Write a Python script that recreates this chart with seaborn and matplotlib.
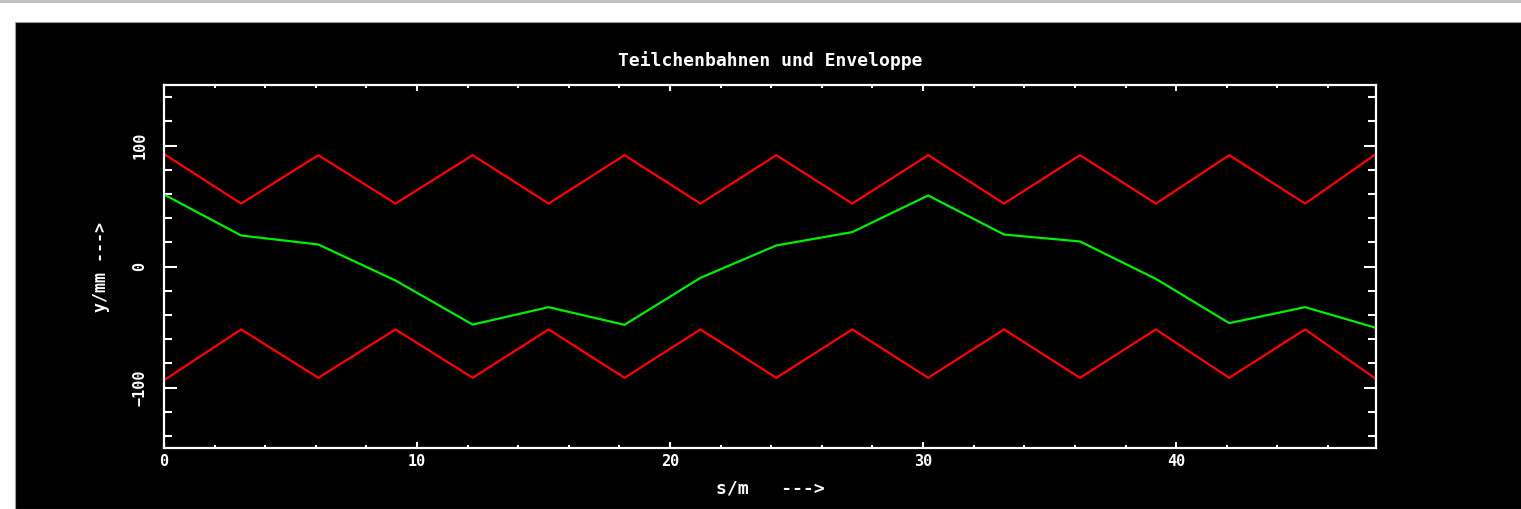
import numpy as np
import pandas as pd
import matplotlib
matplotlib.use('Agg')
import matplotlib.pyplot as plt
import seaborn as sns
from matplotlib.patches import Rectangle
from matplotlib.ticker import MultipleLocator

# s/m positions of the polyline corners
s_pos = [0.0, 3.05, 6.1, 9.15, 12.2, 15.2, 18.2, 21.2, 24.2, 27.2, 30.2,
         33.2, 36.2, 39.2, 42.1, 45.1, 47.9]
# envelope (upper / lower) in mm
env_oben = [93, 52, 92, 52, 92, 52, 92, 52, 92, 52, 92, 52, 92, 52, 92, 52, 93]
env_unten = [-94, -52, -92, -52, -92, -52, -92, -52, -92, -52, -92, -52, -92, -52, -92, -52, -93]
# particle trajectory in mm
bahn = [59.5, 25.6, 18.2, -11.6, -48, -33.6, -48.2, -9.4, 17.4, 28.4, 58.7,
        26.4, 20.7, -10.2, -46.8, -33.6, -50.7]

df = pd.DataFrame({'s': s_pos, 'oben': env_oben, 'unten': env_unten, 'bahn': bahn})

sns.set_theme(style='ticks')
plt.rcParams['font.family'] = ['DejaVu Sans Mono', 'DejaVu Sans']

fig = plt.figure(figsize=(15.21, 5.09), dpi=100)
fig.patch.set_facecolor('white')
# black window area + grey strip on top
fig.patches.append(Rectangle((15 / 1521, 0), 1, (509 - 22) / 509, transform=fig.transFigure,
                             facecolor='black', edgecolor='#a0a0a0', linewidth=0.8, zorder=-10))
fig.patches.append(Rectangle((0, 1 - 3 / 509), 1, 3 / 509, transform=fig.transFigure,
                             facecolor='#c0c0c0', edgecolor='none', zorder=-10))

ax = fig.add_axes([164 / 1521, 1 - 448 / 509, (1376 - 164) / 1521, (448 - 85) / 509])
ax.set_facecolor('black')
ax.set_zorder(5)

sns.lineplot(data=df, x='s', y='oben', color='#ff0000', linewidth=1.6, ax=ax)
sns.lineplot(data=df, x='s', y='unten', color='#ff0000', linewidth=1.6, ax=ax)
sns.lineplot(data=df, x='s', y='bahn', color='#00ee00', linewidth=1.6, ax=ax)

ax.set_xlim(0, 47.9)
ax.set_ylim(-150, 150)
ax.xaxis.set_major_locator(MultipleLocator(10))
ax.xaxis.set_minor_locator(MultipleLocator(2))
ax.yaxis.set_major_locator(MultipleLocator(100))
ax.yaxis.set_minor_locator(MultipleLocator(20))

for sp in ax.spines.values():
    sp.set_color('white')
    sp.set_linewidth(1.6)
    sp.set_visible(True)

ax.tick_params(axis='x', which='major', direction='in', length=4, width=1.5,
               color='white', top=True, bottom=True, labelcolor='white', labelsize=11, pad=4)
ax.tick_params(axis='x', which='minor', direction='in', length=2.5, width=1.5,
               color='white', top=True, bottom=True)
ax.tick_params(axis='y', which='major', direction='in', length=9, width=1.5,
               color='white', left=True, right=True, labelcolor='white', labelsize=11, pad=12)
ax.tick_params(axis='y', which='minor', direction='in', length=6, width=1.5,
               color='white', left=True, right=True)
for lab in ax.get_xticklabels() + ax.get_yticklabels():
    lab.set_fontweight('bold')
for lab in ax.get_yticklabels():
    lab.set_rotation(90)
    lab.set_va('center')

ax.set_xlabel('s/m   --->', color='white', fontsize=13, fontweight='bold', labelpad=8)
ax.set_ylabel('y/mm --->', color='white', fontsize=12, fontweight='bold', labelpad=16)
ax.set_title('Teilchenbahnen und Enveloppe', color='white', fontsize=13,
             fontweight='bold', pad=14)

fig.savefig('out.png', dpi=100, facecolor=fig.get_facecolor())
